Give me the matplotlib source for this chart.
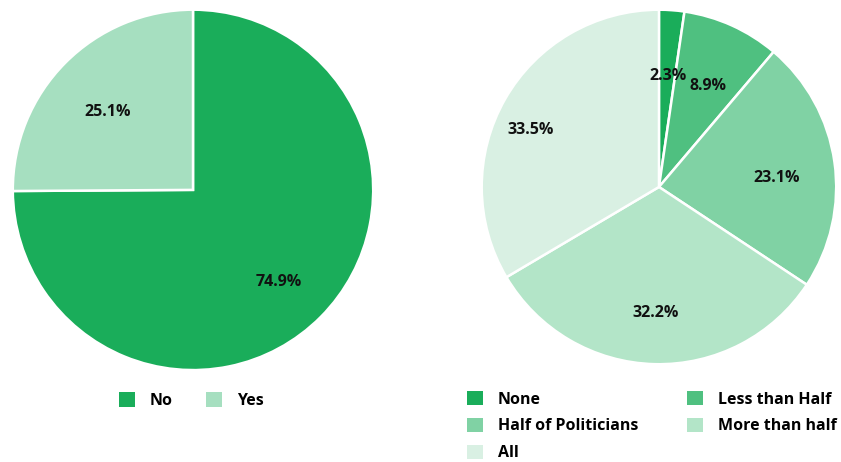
import matplotlib.pyplot as plt
import matplotlib.transforms as mtransforms
from matplotlib.patches import Patch

plt.rcParams['font.family'] = ['Open Sans', 'DejaVu Sans']

# left pie
left_labels = ['No', 'Yes']
left_values = [74.9, 25.1]
left_colors = ['#1aad5a', '#a6dfc0']

# right pie
right_labels = ['None', 'Less than Half', 'Half of Politicians',
                'More than half', 'All']
right_values = [2.3, 8.9, 23.1, 32.2, 33.5]
right_colors = ['#1aad5a', '#4fc080', '#80d2a4', '#b3e5c8', '#d9f0e3']

fig = plt.figure(figsize=[8.41, 4.62], dpi=100)
ax1 = fig.add_axes([0.0131, 0.195, 0.4328, 0.788])
ax2 = fig.add_axes([0.5707, 0.2078, 0.4257, 0.775])

txt = dict(fontsize=11.5, fontweight='bold', color='#111111')

# labels sit a bit lower than the matplotlib default
shift = mtransforms.ScaledTranslation(0, -7.5 / 100, fig.dpi_scale_trans)

for ax, vals, cols in [(ax1, left_values, left_colors),
                       (ax2, right_values, right_colors)]:
    wedges, texts, autotexts = ax.pie(
        vals, colors=cols, startangle=90, counterclock=False,
        autopct='%.1f%%', pctdistance=0.67,
        wedgeprops=dict(edgecolor='white', linewidth=1.8),
        textprops=txt)
    for t in autotexts:
        t.set_transform(ax.transData + shift)
    ax.set_xlim(-1.01, 1.01)
    ax.set_ylim(-1.01, 1.01)
    ax.set_aspect('equal')

# nudge the "All" label outward a little like the original
for t in ax2.texts:
    if t.get_text() == '33.5%':
        x, y = t.get_position()
        t.set_position((x * 1.24, y * 1.09))

leg_font = dict(size=11.5, weight='bold')

h1 = [Patch(facecolor=c, edgecolor='none') for c in left_colors]
fig.legend(h1, left_labels, loc='center left',
           bbox_to_anchor=(0.124, 0.133), ncol=2, frameon=False,
           prop=leg_font, handlelength=1.0, handleheight=1.0,
           handletextpad=0.95, columnspacing=2.05)

# matplotlib fills legend columns first; reorder so rows read like the original
order = [0, 2, 4, 1, 3]
h2 = [Patch(facecolor=right_colors[i], edgecolor='none') for i in order]
l2 = [right_labels[i] for i in order]
fig.legend(h2, l2, loc='upper left',
           bbox_to_anchor=(0.538, 0.185), ncol=2, frameon=False,
           prop=leg_font, handlelength=1.0, handleheight=1.0,
           handletextpad=0.95, columnspacing=3.05, labelspacing=0.64)

fig.savefig('out.png', dpi=100)
